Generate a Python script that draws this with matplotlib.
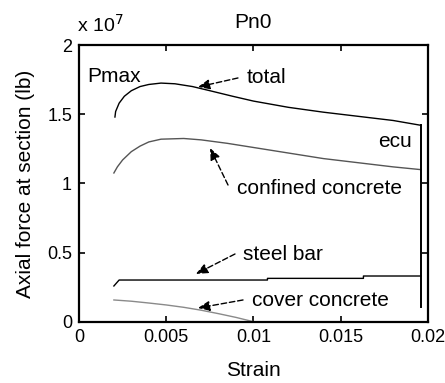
import matplotlib
matplotlib.use("Agg")
import matplotlib.pyplot as plt
from matplotlib import font_manager

plt.rcParams['font.family'] = ['Liberation Sans', 'DejaVu Sans']
_names = {f.name for f in font_manager.fontManager.ttflist}
if 'Liberation Sans Narrow' in _names:
    tick_family, tick_size = ['Liberation Sans Narrow', 'Liberation Sans'], 15
else:
    tick_family, tick_size = ['Liberation Sans', 'DejaVu Sans'], 13

# strain values and forces (units of 1e7 lb)
total_strain = [0.00206, 0.0021, 0.0023, 0.0026, 0.0030, 0.0035, 0.0040, 0.0047, 0.0055, 0.0065,
                0.0075, 0.0088, 0.0100, 0.0120, 0.0140, 0.0160, 0.0180, 0.0196]
total_force = [1.48, 1.52, 1.58, 1.63, 1.67, 1.70, 1.715, 1.725, 1.72, 1.70,
               1.67, 1.63, 1.595, 1.55, 1.515, 1.485, 1.455, 1.42]

conf_strain = [0.0020, 0.0022, 0.0025, 0.0030, 0.0035, 0.0040, 0.0047, 0.0060, 0.0070, 0.0085,
               0.0100, 0.0120, 0.0140, 0.0160, 0.0180, 0.0196]
conf_force = [1.076, 1.12, 1.17, 1.23, 1.27, 1.30, 1.32, 1.325, 1.315, 1.29,
              1.26, 1.22, 1.18, 1.15, 1.12, 1.10]

steel_strain = [0.0020, 0.0023, 0.0108, 0.0108, 0.0163, 0.0163, 0.0196]
steel_force = [0.26, 0.303, 0.303, 0.315, 0.315, 0.332, 0.332]

cover_strain = [0.0020, 0.0030, 0.0040, 0.0050, 0.0060, 0.0070, 0.0080, 0.0090, 0.0099, 0.0101, 0.0196]
cover_force = [0.159, 0.15, 0.137, 0.123, 0.106, 0.085, 0.06, 0.033, 0.005, 0.0, 0.0]

ecu_strain = [0.01958, 0.01958]
ecu_force = [1.42, 0.108]

xticks = [0, 0.005, 0.01, 0.015, 0.02]
xticklabels = ['0', '0.005', '0.01', '0.015', '0.02']
yticks = [0, 0.5, 1, 1.5, 2]
yticklabels = ['0', '0.5', '1', '1.5', '2']

fig = plt.figure(figsize=(4.45, 3.83), dpi=100)
ax = fig.add_axes([0.1775, 0.1593, 0.7843, 0.7232])

ax.plot(total_strain, total_force, color='black', lw=1.0)
ax.plot(conf_strain, conf_force, color='#555555', lw=1.0)
ax.plot(steel_strain, steel_force, color='black', lw=1.0)
ax.plot(cover_strain, cover_force, color='#8a8a8a', lw=1.0)
ax.plot(ecu_strain, ecu_force, color='black', lw=1.4)

ax.set_xlim(0, 0.02)
ax.set_ylim(0, 2)
ax.set_xticks(xticks)
ax.set_xticklabels(xticklabels, family=tick_family, fontsize=tick_size)
ax.set_yticks(yticks)
ax.set_yticklabels(yticklabels, family=tick_family, fontsize=tick_size)
ax.tick_params(direction='in', top=True, right=True, length=4, width=1.2, pad=5)
for s in ax.spines.values():
    s.set_linewidth(1.6)

ax.set_xlabel('Strain', fontsize=15, labelpad=11)
ax.set_ylabel('Axial force at section (lb)', fontsize=15, labelpad=9)
ax.set_title('Pn0', fontsize=15, pad=12)
fig.text(77/445, 1 - 25/383, r'x 10$^7$', fontsize=14, ha='left', va='center')

arrow_kw = dict(arrowstyle='-|>,head_length=0.7,head_width=0.3', color='black', lw=1.0,
                linestyle=(0, (4, 2)), shrinkA=0, shrinkB=0)
fs = 15
ax.annotate('', xy=(0.00682, 1.697), xytext=(0.00911, 1.762), arrowprops=arrow_kw)
ax.text(0.00963, 1.762, 'total', fontsize=fs, ha='left', va='center')
ax.annotate('', xy=(0.00751, 1.256), xytext=(0.00854, 0.989), arrowprops=arrow_kw)
ax.text(0.00905, 0.967, 'confined concrete', fontsize=fs, ha='left', va='center')
ax.annotate('', xy=(0.00670, 0.347), xytext=(0.00894, 0.491), arrowprops=arrow_kw)
ax.text(0.0094, 0.484, 'steel bar', fontsize=fs, ha='left', va='center')
ax.annotate('', xy=(0.00682, 0.101), xytext=(0.0094, 0.159), arrowprops=arrow_kw)
ax.text(0.00991, 0.152, 'cover concrete', fontsize=fs, ha='left', va='center')
ax.text(0.00046, 1.77, 'Pmax', fontsize=fs, ha='left', va='center')
ax.text(0.01908, 1.30, 'ecu', fontsize=fs, ha='right', va='center')

fig.savefig('out.png', dpi=100)
